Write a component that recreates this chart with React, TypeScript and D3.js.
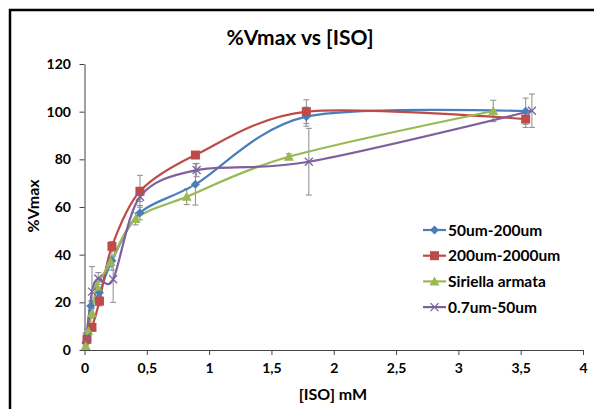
import React, { useEffect, useRef } from 'react';
import * as d3 from 'd3';

// data
const seriesNames = ['50um-200um', '200um-2000um', 'Siriella armata', '0.7um-50um'];
const seriesColors = ['#4A7EBB', '#BE4B48', '#98B954', '#7D60A0'];
const seriesMarkers = ['diamond', 'square', 'triangle', 'x'];

const blueX = [0.01, 0.05, 0.12, 0.22, 0.445, 0.89, 1.78, 3.54];
const blueY = [3, 18.5, 24, 37.5, 57.6, 69.5, 97.9, 100.2];
const blueErr = [1, 2, 2, 4, 3, 8.7, 4, 5.5];

const redX = [0.02, 0.06, 0.12, 0.22, 0.445, 0.89, 1.78, 3.54];
const redY = [4.5, 9.5, 20.5, 43.5, 66.6, 81.8, 100, 96.9];
const redErr = [1, 1.5, 2, 2, 6.7, 1, 5, 3.5];

const greenX = [0.01, 0.03, 0.06, 0.1, 0.21, 0.41, 0.82, 1.64, 3.28];
const greenY = [1.7, 8, 15.4, 26.6, 36.9, 55, 64.3, 81.1, 100.3];
const greenErr = [1, 1, 2, 2, 2, 2.5, 3.3, 1.2, 4.5];

const purpleX = [0.02, 0.06, 0.11, 0.23, 0.445, 0.9, 1.8, 3.59];
const purpleY = [5.6, 24.5, 30, 29.7, 64.3, 75.5, 79, 100.4];
const purpleErr = [3, 10.5, 2.5, 9.7, 2, 2.8, 14, 7];

const xTicks = [0, 0.5, 1, 1.5, 2, 2.5, 3, 3.5, 4];
const yTicks = [0, 20, 40, 60, 80, 100, 120];

const font = 'Lato, "Open Sans", sans-serif';

const App = () => {
  const svgRef = useRef<SVGSVGElement>(null);

  useEffect(() => {
    const svg = d3.select(svgRef.current);
    svg.selectAll('*').remove();

    const x = d3.scaleLinear().domain([0, 4]).range([84.5, 583]);
    const y = d3.scaleLinear().domain([0, 120]).range([350, 64]);

    // chart frame
    svg.append('rect')
      .attr('x', 10).attr('y', 10)
      .attr('width', 640).attr('height', 460)
      .attr('fill', '#fff')
      .attr('stroke', '#000')
      .attr('stroke-width', 2.5);

    svg.append('text')
      .attr('x', 300).attr('y', 45)
      .attr('text-anchor', 'middle')
      .style('font-family', font)
      .style('font-size', '21px')
      .style('font-weight', 'bold')
      .text('%Vmax vs [ISO]');

    // axes
    const gx = svg.append('g')
      .attr('transform', `translate(0,${y(0)})`)
      .call(d3.axisBottom(x).tickValues(xTicks).tickSize(5).tickSizeOuter(0)
        .tickFormat(d => String(d).replace('.', ',')));
    const gy = svg.append('g')
      .attr('transform', `translate(${x(0)},0)`)
      .call(d3.axisLeft(y).tickValues(yTicks).tickSize(5).tickSizeOuter(0));

    [gx, gy].forEach(g => {
      g.select('.domain').attr('stroke', '#444');
      g.selectAll('.tick line').attr('stroke', '#444');
      g.selectAll('.tick text')
        .style('font-family', font)
        .style('font-size', '14px')
        .style('font-weight', 'bold')
        .attr('fill', '#000');
    });
    gx.selectAll('.tick text').attr('y', 13).attr('dy', '0.71em');
    gy.selectAll('.tick text').attr('dx', '-0.4em');

    svg.append('text')
      .attr('x', 333).attr('y', 400)
      .attr('text-anchor', 'middle')
      .style('font-family', font)
      .style('font-size', '16px')
      .style('font-weight', 'bold')
      .text('[ISO] mM');

    svg.append('text')
      .attr('transform', 'translate(39,206) rotate(-90)')
      .attr('text-anchor', 'middle')
      .style('font-family', font)
      .style('font-size', '16px')
      .style('font-weight', 'bold')
      .text('%Vmax');

    const series = [
      { xs: blueX, ys: blueY, es: blueErr },
      { xs: redX, ys: redY, es: redErr },
      { xs: greenX, ys: greenY, es: greenErr },
      { xs: purpleX, ys: purpleY, es: purpleErr },
    ];

    const drawMarker = (g: any, kind: string, cx: number, cy: number, color: string) => {
      if (kind === 'diamond') {
        g.append('path')
          .attr('d', `M${cx},${cy - 4.5}L${cx + 4.5},${cy}L${cx},${cy + 4.5}L${cx - 4.5},${cy}Z`)
          .attr('fill', color);
      } else if (kind === 'square') {
        g.append('rect')
          .attr('x', cx - 4.5).attr('y', cy - 4.5)
          .attr('width', 9).attr('height', 9)
          .attr('fill', color);
      } else if (kind === 'triangle') {
        g.append('path')
          .attr('d', `M${cx},${cy - 5}L${cx + 5},${cy + 4}L${cx - 5},${cy + 4}Z`)
          .attr('fill', color);
      } else {
        g.append('path')
          .attr('d', `M${cx - 4},${cy - 4}L${cx + 4},${cy + 4}M${cx - 4},${cy + 4}L${cx + 4},${cy - 4}`)
          .attr('stroke', color)
          .attr('stroke-width', 1.3)
          .attr('fill', 'none');
      }
    };

    // error bars
    const errG = svg.append('g');
    series.forEach(s => {
      s.xs.forEach((xv, i) => {
        const px = x(xv);
        const top = y(s.ys[i] + s.es[i]);
        const bot = y(s.ys[i] - s.es[i]);
        errG.append('path')
          .attr('d', `M${px},${top}V${bot}M${px - 3},${top}H${px + 3}M${px - 3},${bot}H${px + 3}`)
          .attr('stroke', '#8c8c8c')
          .attr('stroke-width', 1)
          .attr('fill', 'none');
      });
    });

    const line = d3.line<[number, number]>()
      .x(d => x(d[0]))
      .y(d => y(d[1]))
      .curve(d3.curveCardinal.tension(0.1));

    series.forEach((s, k) => {
      const pts = s.xs.map((xv, i) => [xv, s.ys[i]] as [number, number]);
      svg.append('path')
        .datum(pts)
        .attr('d', line)
        .attr('fill', 'none')
        .attr('stroke', seriesColors[k])
        .attr('stroke-width', 2.2);
    });
    series.forEach((s, k) => {
      const g = svg.append('g');
      s.xs.forEach((xv, i) => drawMarker(g, seriesMarkers[k], x(xv), y(s.ys[i]), seriesColors[k]));
    });

    // legend
    const lg = svg.append('g');
    seriesNames.forEach((name, k) => {
      const ly = 230 + k * 25.7;
      lg.append('line')
        .attr('x1', 423).attr('x2', 446)
        .attr('y1', ly).attr('y2', ly)
        .attr('stroke', seriesColors[k])
        .attr('stroke-width', 2.2);
      drawMarker(lg, seriesMarkers[k], 434.5, ly, seriesColors[k]);
      lg.append('text')
        .attr('x', 448).attr('y', ly + 5.5)
        .style('font-family', font)
        .style('font-size', '15.5px')
        .style('font-weight', 'bold')
        .text(name);
    });
  }, []);

  return (
    <svg
      ref={svgRef}
      width={594}
      height={409}
      style={{ position: 'absolute', left: 0, top: 0, background: '#fff' }}
    />
  );
};

export default App;
